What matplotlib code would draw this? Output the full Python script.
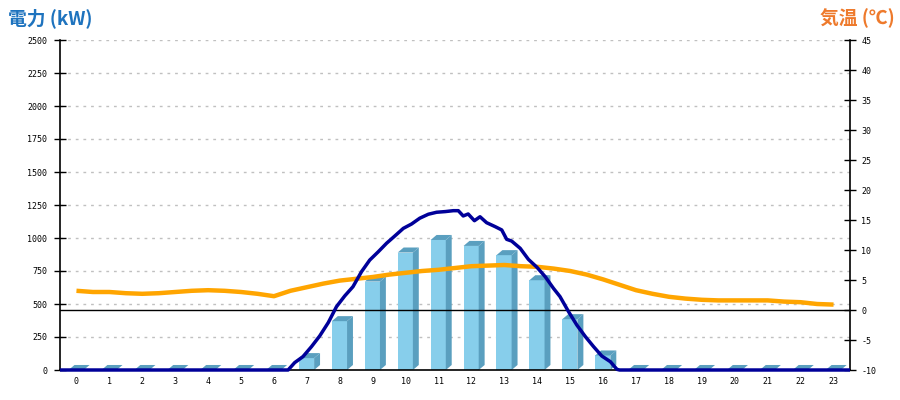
import numpy as np
import matplotlib
matplotlib.use("Agg")
import matplotlib.pyplot as plt
from matplotlib.patches import Polygon

# ── Data ───────────────────────────────────────────────────────
HOURS = list(range(24))

# hourly generation (kW), bars
HOURLY_KW = [0, 0, 0, 0, 0, 0, 0, 90, 370, 670, 890, 985,
             940, 870, 680, 385, 110, 0, 0, 0, 0, 0, 0, 0]

# instantaneous generation (kW), clock time in hours
POWER_T = [0.0, 6.93, 7.13, 7.38, 7.64, 7.89, 8.15, 8.40, 8.65, 8.90,
           9.16, 9.41, 9.67, 9.92, 10.17, 10.43, 10.68, 10.93, 11.19, 11.44,
           11.70, 11.95, 12.10, 12.25, 12.40, 12.59, 12.76, 12.96, 13.22, 13.42,
           13.57, 13.72, 13.98, 14.23, 14.49, 14.74, 14.99, 15.19, 15.45, 15.70,
           15.96, 16.21, 16.46, 16.72, 16.92, 17.0, 24.0]
POWER_KW = [0, 0, 56, 101, 177, 258, 359, 480, 561, 631,
            745, 833, 896, 960, 1015, 1073, 1106, 1150, 1180, 1195,
            1200, 1207, 1207, 1167, 1182, 1131, 1161, 1116, 1086, 1061,
            990, 977, 922, 838, 778, 707, 619, 556, 442, 341,
            253, 177, 106, 63, 5, 0, 0]

# air temperature (deg C), half-hourly from 0:00 to 23:00
TEMP_T = [i * 0.5 for i in range(47)]
TEMP_C = [3.2, 3.0, 3.0, 2.8, 2.7, 2.8, 3.0, 3.2, 3.3, 3.2,
          3.0, 2.7, 2.3, 3.2, 3.8, 4.4, 4.9, 5.2, 5.5, 5.9,
          6.2, 6.5, 6.7, 7.0, 7.3, 7.4, 7.5, 7.3, 7.2, 6.9,
          6.5, 5.9, 5.1, 4.2, 3.3, 2.7, 2.2, 1.9, 1.7, 1.6,
          1.6, 1.6, 1.6, 1.4, 1.3, 1.0, 0.9]

KW_TICKS = list(range(0, 2501, 250))
TEMP_TICKS = list(range(-10, 46, 5))

# ── Style ──────────────────────────────────────────────────────
FRONT = "#87CEEB"
SIDE = "#5A9FBF"
NAVY = "#000099"
ORANGE = "#FFA500"
TICK_FONT = "DejaVu Sans Mono"
TITLE_FONT = ["Noto Sans CJK JP", "DejaVu Sans"]

fig = plt.figure(figsize=(9, 4), dpi=100)
ax = fig.add_axes([60 / 900, 30 / 400, 790 / 900, 330 / 400])
ax_t = ax.twinx()
ax_l = ax.twinx()

ax.set_xlim(-0.5, 23.5)
ax.set_ylim(0, 2500)
ax_l.set_ylim(0, 2500)
ax_t.set_ylim(-10, 45)

# draw order: grid/bars < temperature < power line
ax.set_zorder(1)
ax_t.set_zorder(2)
ax_l.set_zorder(3)
ax_t.patch.set_visible(False)
ax_l.patch.set_visible(False)

# gridlines
for v in KW_TICKS[1:]:
    ax.axhline(v, color="#c0c0c0", lw=1, ls=(0, (2, 3.5)), zorder=0)

# 3D-looking bars
half_l, half_r = 0.24, 0.22
dx, dy = 0.18, 38
for h, v in zip(HOURS, HOURLY_KW):
    x0, x1 = h - half_l, h + half_r
    ax.add_patch(Polygon([(x0, 0), (x1, 0), (x1, v), (x0, v)],
                         closed=True, facecolor=FRONT, edgecolor="none", zorder=2))
    ax.add_patch(Polygon([(x1, 0), (x1 + dx, dy), (x1 + dx, v + dy), (x1, v)],
                         closed=True, facecolor=SIDE, edgecolor="none", zorder=2))
    ax.add_patch(Polygon([(x0, v), (x1, v), (x1 + dx, v + dy), (x0 + dx, v + dy)],
                         closed=True, facecolor=SIDE, edgecolor="none", zorder=2))

# temperature line + zero reference
ax_t.axhline(0, color="black", lw=1, zorder=1)
ax_t.plot(TEMP_T, TEMP_C, color=ORANGE, lw=3.2, solid_capstyle="butt", zorder=3)

# power line (clock time shifted so 0:00 sits at the left edge)
ax_l.plot(np.array(POWER_T) - 0.5, POWER_KW, color=NAVY, lw=2.5,
          solid_capstyle="butt", clip_on=False, zorder=4)

# axes cosmetics
for a in (ax, ax_t, ax_l):
    a.spines["top"].set_visible(False)
for s in ("left", "right", "bottom", "top"):
    ax_l.spines[s].set_visible(False)
ax_l.set_yticks([])
ax_t.spines["left"].set_visible(False)
ax_t.spines["bottom"].set_visible(False)
ax.spines["right"].set_visible(False)
for sp in (ax.spines["left"], ax.spines["bottom"], ax_t.spines["right"]):
    sp.set_color("black")
    sp.set_linewidth(1.2)

ax.set_xticks(HOURS)
ax.set_xticklabels([str(h) for h in HOURS], fontfamily=TICK_FONT, fontsize=6)
ax.tick_params(axis="x", length=0, pad=5)

ax.set_yticks(KW_TICKS)
ax.set_yticklabels([str(v) for v in KW_TICKS], fontfamily=TICK_FONT, fontsize=6)
ax.tick_params(axis="y", direction="inout", length=8, width=1, pad=5)

ax_t.set_yticks(TEMP_TICKS)
ax_t.set_yticklabels([str(v) for v in TEMP_TICKS], fontfamily=TICK_FONT, fontsize=6)
ax_t.tick_params(axis="y", direction="inout", length=8, width=1, pad=4)

fig.text(8 / 900, 1 - 18 / 400, "電力 (kW)", family=TITLE_FONT, fontsize=13.5,
         fontweight="bold", color="#1E73BE", ha="left", va="center")
fig.text(895 / 900, 1 - 18 / 400, "気温 (℃)", family=TITLE_FONT, fontsize=13.5,
         fontweight="bold", color="#EE7A2C", ha="right", va="center")

fig.savefig("out.png", dpi=100)
